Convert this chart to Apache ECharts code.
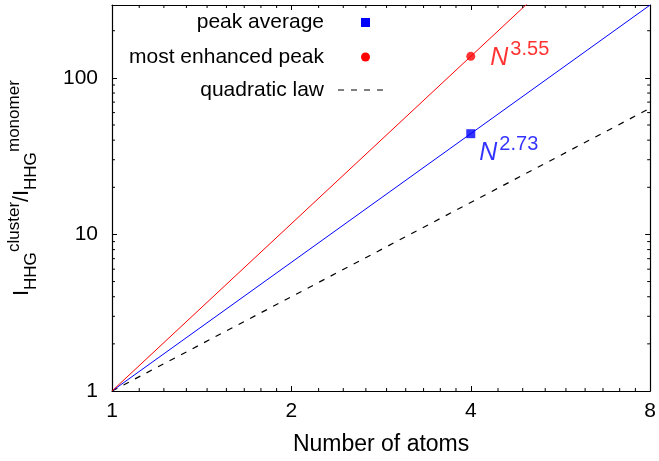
<!DOCTYPE html>
<html>
<head>
<meta charset="utf-8">
<script src="https://cdn.jsdelivr.net/npm/echarts@6/dist/echarts.min.js"></script>
<style>
  html, body { margin: 0; padding: 0; background: #fff; }
  #chart { width: 659px; height: 461px; }
</style>
</head>
<body>
<div id="chart"></div>
<script>
// Harmonic yield of clusters relative to the monomer, vs. cluster size (log-log)
const FONT = "'Liberation Sans', Arial, Helvetica, sans-serif";

// axis ranges
const xRange = [1, 8];
const yRange = [1, 292];

// measured points at N = 4
const measuredN = [4];
const peakAverage = [44.0];
const mostEnhanced = [137.2];

// fitted power laws: I ~ N^p
const fitN = [1, 8];
const avgExponent = 2.73;
const peakExponent = 3.55;
const quadExponent = 2;

// minor tick positions
const xMinorTicks = [
  1.111, 1.222, 1.333, 1.444, 1.556, 1.667, 1.778, 1.889,
  2.222, 2.444, 2.667, 2.889, 3.111, 3.333, 3.556, 3.778,
  4.444, 4.889, 5.333, 5.778, 6.222, 6.667, 7.111, 7.556
];
const yMinorTicks = [2, 3, 4, 5, 6, 7, 8, 9, 20, 30, 40, 50, 60, 70, 80, 90, 200];

const powerLine = (p) => fitN.map(n => [n, Math.pow(n, p)]);

const minorTickData = []
  .concat(xMinorTicks.map(v => [v, yRange[0], 0]))
  .concat(yMinorTicks.map(v => [xRange[0], v, 1]));

const chart = echarts.init(document.getElementById('chart'), null, { renderer: 'canvas' });

const axisCommon = {
  axisLine: { show: true, lineStyle: { color: '#000', width: 1.2 } },
  axisTick: { show: true, inside: true, length: 5, lineStyle: { color: '#000', width: 1 } },
  splitLine: { show: false },
  minorTick: { show: false },
  minorSplitLine: { show: false }
};

const option = {
  animation: false,
  backgroundColor: '#fff',
  grid: { left: 112, right: 7, top: 5, bottom: 68 },
  xAxis: [
    Object.assign({
      type: 'log', logBase: 2, min: xRange[0], max: xRange[1], position: 'bottom',
      name: 'Number of atoms', nameLocation: 'middle', nameGap: 42,
      nameTextStyle: { fontFamily: FONT, fontSize: 23, color: '#000' },
      axisLabel: { fontFamily: FONT, fontSize: 21, color: '#000', margin: 10, showMaxLabel: true }
    }, axisCommon),
    Object.assign({
      type: 'log', logBase: 2, min: xRange[0], max: xRange[1], position: 'top',
      axisLabel: { show: false }
    }, axisCommon)
  ],
  yAxis: [
    Object.assign({
      type: 'log', logBase: 10, min: yRange[0], max: yRange[1], position: 'left',
      axisLabel: { fontFamily: FONT, fontSize: 21, color: '#000', margin: 14, showMaxLabel: false }
    }, axisCommon),
    Object.assign({
      type: 'log', logBase: 10, min: yRange[0], max: yRange[1], position: 'right',
      axisLabel: { show: false }
    }, axisCommon)
  ],
  series: [
    {
      // short inward minor ticks on all four sides of the frame
      type: 'custom',
      name: 'minor ticks',
      silent: true,
      clip: false,
      data: minorTickData,
      renderItem: function (params, api) {
        const v = api.value(0), w = api.value(1), kind = api.value(2);
        const len = 3;
        let a, b, segs;
        if (kind === 0) {
          a = api.coord([v, yRange[0]]);
          b = api.coord([v, yRange[1]]);
          segs = [[a[0], a[1], a[0], a[1] - len], [b[0], b[1], b[0], b[1] + len]];
        } else {
          a = api.coord([xRange[0], w]);
          b = api.coord([xRange[1], w]);
          segs = [[a[0], a[1], a[0] + len, a[1]], [b[0], b[1], b[0] - len, b[1]]];
        }
        return {
          type: 'group',
          children: segs.map(s => ({
            type: 'line',
            shape: { x1: s[0], y1: s[1], x2: s[2], y2: s[3] },
            style: { stroke: '#000', lineWidth: 1 }
          }))
        };
      },
      z: 5
    },
    {
      type: 'line', name: 'quadratic law', data: powerLine(quadExponent),
      symbol: 'none', clip: true,
      lineStyle: { color: '#000', width: 1.2, type: [6, 7] }, z: 2
    },
    {
      type: 'line', name: 'avg fit', data: powerLine(avgExponent),
      symbol: 'none', clip: true,
      lineStyle: { color: '#0000ff', width: 1 }, z: 2
    },
    {
      type: 'line', name: 'peak fit', data: powerLine(peakExponent),
      symbol: 'none', clip: true,
      lineStyle: { color: '#ff0000', width: 1 }, z: 2
    },
    {
      type: 'scatter', name: 'peak average',
      data: measuredN.map((n, i) => [n, peakAverage[i]]),
      symbol: 'rect', symbolSize: 9,
      itemStyle: { color: '#0000ff' },
      label: {
        show: true, position: 'right', distance: 4, offset: [0, 19],
        formatter: '{n|N}{s|' + avgExponent.toFixed(2) + '}',
        rich: {
          n: { fontFamily: FONT, fontSize: 25, fontStyle: 'italic', color: '#0000ff', lineHeight: 25, verticalAlign: 'bottom' },
          s: { fontFamily: FONT, fontSize: 20, color: '#0000ff', lineHeight: 20, padding: [0, 0, 11, 2], verticalAlign: 'bottom' }
        }
      },
      z: 3
    },
    {
      type: 'scatter', name: 'most enhanced peak',
      data: measuredN.map((n, i) => [n, mostEnhanced[i]]),
      symbol: 'circle', symbolSize: 9,
      itemStyle: { color: '#ff0000' },
      label: {
        show: true, position: 'right', distance: 15, offset: [0, 2],
        formatter: '{n|N}{s|' + peakExponent.toFixed(2) + '}',
        rich: {
          n: { fontFamily: FONT, fontSize: 25, fontStyle: 'italic', color: '#ff0000', lineHeight: 25, verticalAlign: 'bottom' },
          s: { fontFamily: FONT, fontSize: 20, color: '#ff0000', lineHeight: 20, padding: [0, 0, 11, 2], verticalAlign: 'bottom' }
        }
      },
      z: 3
    }
  ],
  graphic: [
    // key, top-right inside the frame
    { type: 'text', x: 324, y: 22, style: { text: 'peak average', fontFamily: FONT, fontSize: 21, fill: '#000', align: 'right', verticalAlign: 'middle' } },
    { type: 'rect', x: 361, y: 18, shape: { x: 0, y: 0, width: 9, height: 9 }, style: { fill: '#0000ff' } },
    { type: 'text', x: 324, y: 57, style: { text: 'most enhanced peak', fontFamily: FONT, fontSize: 21, fill: '#000', align: 'right', verticalAlign: 'middle' } },
    { type: 'circle', x: 365.5, y: 57, shape: { cx: 0, cy: 0, r: 4.5 }, style: { fill: '#ff0000' } },
    { type: 'text', x: 324, y: 90, style: { text: 'quadratic law', fontFamily: FONT, fontSize: 21, fill: '#000', align: 'right', verticalAlign: 'middle' } },
    { type: 'line', x: 0, y: 0, shape: { x1: 338, y1: 90, x2: 388, y2: 90 }, style: { stroke: '#000', lineWidth: 1.2, lineDash: [6, 7] } },
    // y-axis title: I_HHG^cluster / I_HHG^monomer, read bottom to top
    {
      type: 'group', x: 22, y: 296, rotation: Math.PI / 2,
      children: [
        { type: 'text', x: 0, y: 0, style: { text: 'I', fontFamily: FONT, fontSize: 22, fill: '#000', align: 'left', verticalAlign: 'middle' } },
        { type: 'text', x: 6, y: 9, style: { text: 'HHG', fontFamily: FONT, fontSize: 17, fill: '#000', align: 'left', verticalAlign: 'middle' } },
        { type: 'text', x: 44, y: -8, style: { text: 'cluster', fontFamily: FONT, fontSize: 17, fill: '#000', align: 'left', verticalAlign: 'middle' } },
        { type: 'text', x: 94, y: 0, style: { text: '/', fontFamily: FONT, fontSize: 22, fill: '#000', align: 'left', verticalAlign: 'middle' } },
        { type: 'text', x: 100, y: 0, style: { text: 'I', fontFamily: FONT, fontSize: 22, fill: '#000', align: 'left', verticalAlign: 'middle' } },
        { type: 'text', x: 106, y: 9, style: { text: 'HHG', fontFamily: FONT, fontSize: 17, fill: '#000', align: 'left', verticalAlign: 'middle' } },
        { type: 'text', x: 144, y: -8, style: { text: 'monomer', fontFamily: FONT, fontSize: 17, fill: '#000', align: 'left', verticalAlign: 'middle' } }
      ]
    }
  ]
};

chart.setOption(option);
</script>
</body>
</html>
